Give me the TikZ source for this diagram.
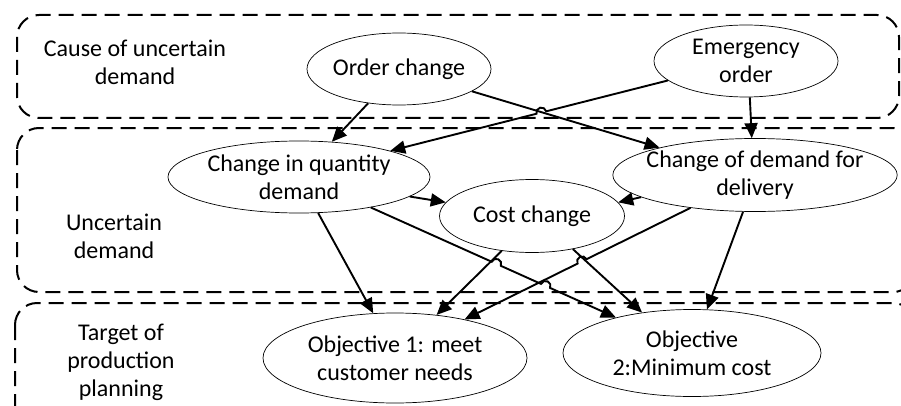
\documentclass[tikz,border=0pt]{standalone}
\usepackage{fontspec}
\setmainfont{Carlito}
\usetikzlibrary{shapes.geometric,arrows.meta,calc}

\begin{document}
\begin{tikzpicture}[
		x=1pt, y=1pt,
		every node/.style={align=center, font=\fontsize{24}{28}\selectfont},
		region/.style={draw, line width=2pt, dash pattern=on 15pt off 8pt, rounded corners=22pt},
		event/.style={ellipse, draw, line width=0.7pt, inner sep=-8pt},
		link/.style={line width=1.9pt, -{Triangle[length=15pt,width=13pt]}}
		]
		
		\useasboundingbox (0,0) rectangle (901,405);
		\clip (0,0) rectangle (901,405);
		
		% Dashed regions
		\draw[region] (17,390) rectangle (899,287);
		\draw[region] (17,277) rectangle (915,113);
		\draw[region] (15,102) rectangle (915,-25);
		
		% Region labels
		\node (causetxt) at (135,343) {Cause of uncertain\\demand};
		\node (uncertxt) at (114,169) {Uncertain\\demand};
		\node (targettxt) at (121,43) {Target of\\production\\planning};
		
		% Events
		\node[event, minimum width=184pt, minimum height=72pt] (order) at (399,336) {Order change};
		\node[event, minimum width=184pt, minimum height=72pt] (emer) at (746,344) {Emergency\\order};
		\node[event, minimum width=262pt, minimum height=72pt] (qty) at (299,228) {Change in quantity\\demand};
		\node[event, minimum width=279pt, minimum height=73pt] (dlv) at (755,230) {Change of demand for\\delivery};
		\node[event, minimum width=185pt, minimum height=73pt] (cost) at (532,189) {Cost change};
		\node[event, minimum width=264pt, minimum height=90pt] (obj1) at (395,47) {Objective 1: meet\\customer needs};
		\node[event, minimum width=258pt, minimum height=87pt] (obj2) at (692,52) {Objective\\2:Minimum cost};
		
		% Hop points
		\coordinate (h3) at ($(emer.194)!0.456!(qty.16)$);
		\coordinate (h8a) at ($(qty.337)!0.512!(obj2.155)$);
		\coordinate (h8b) at ($(qty.337)!0.713!(obj2.155)$);
		\coordinate (h10) at ($(dlv.207)!0.48!(obj1.29)$);
		
		% Links
		\draw[link] (order.228) -- (qty.47);
		\draw[link] (order.343) -- (dlv.164);
		\draw[link] (emer.194) -- ($(h3)!5pt!(emer.194)$) arc[start angle=14, end angle=194, radius=5pt] -- (qty.16);
		\draw[link] (emer.276) -- (dlv.95);
		\draw[link] (qty.350) -- (cost.171);
		\draw[link] (dlv.191) -- (cost.9);
		\draw[link] (qty.298) -- (obj1.116);
		\draw[link] (qty.337) -- ($(h8a)!5pt!(qty.337)$) arc[start angle=156, end angle=-24, radius=5pt]
			-- ($(h8b)!5pt!(qty.337)$) arc[start angle=156, end angle=-24, radius=5pt] -- (obj2.155);
		\draw[link] (cost.229) -- (obj1.46);
		\draw[link] (dlv.207) -- ($(h10)!5pt!(dlv.207)$) arc[start angle=26, end angle=206, radius=5pt] -- (obj1.29);
		\draw[link] (cost.321) -- (obj2.141);
		\draw[link] (dlv.252) -- (obj2.71);
		
\end{tikzpicture}
\end{document}
